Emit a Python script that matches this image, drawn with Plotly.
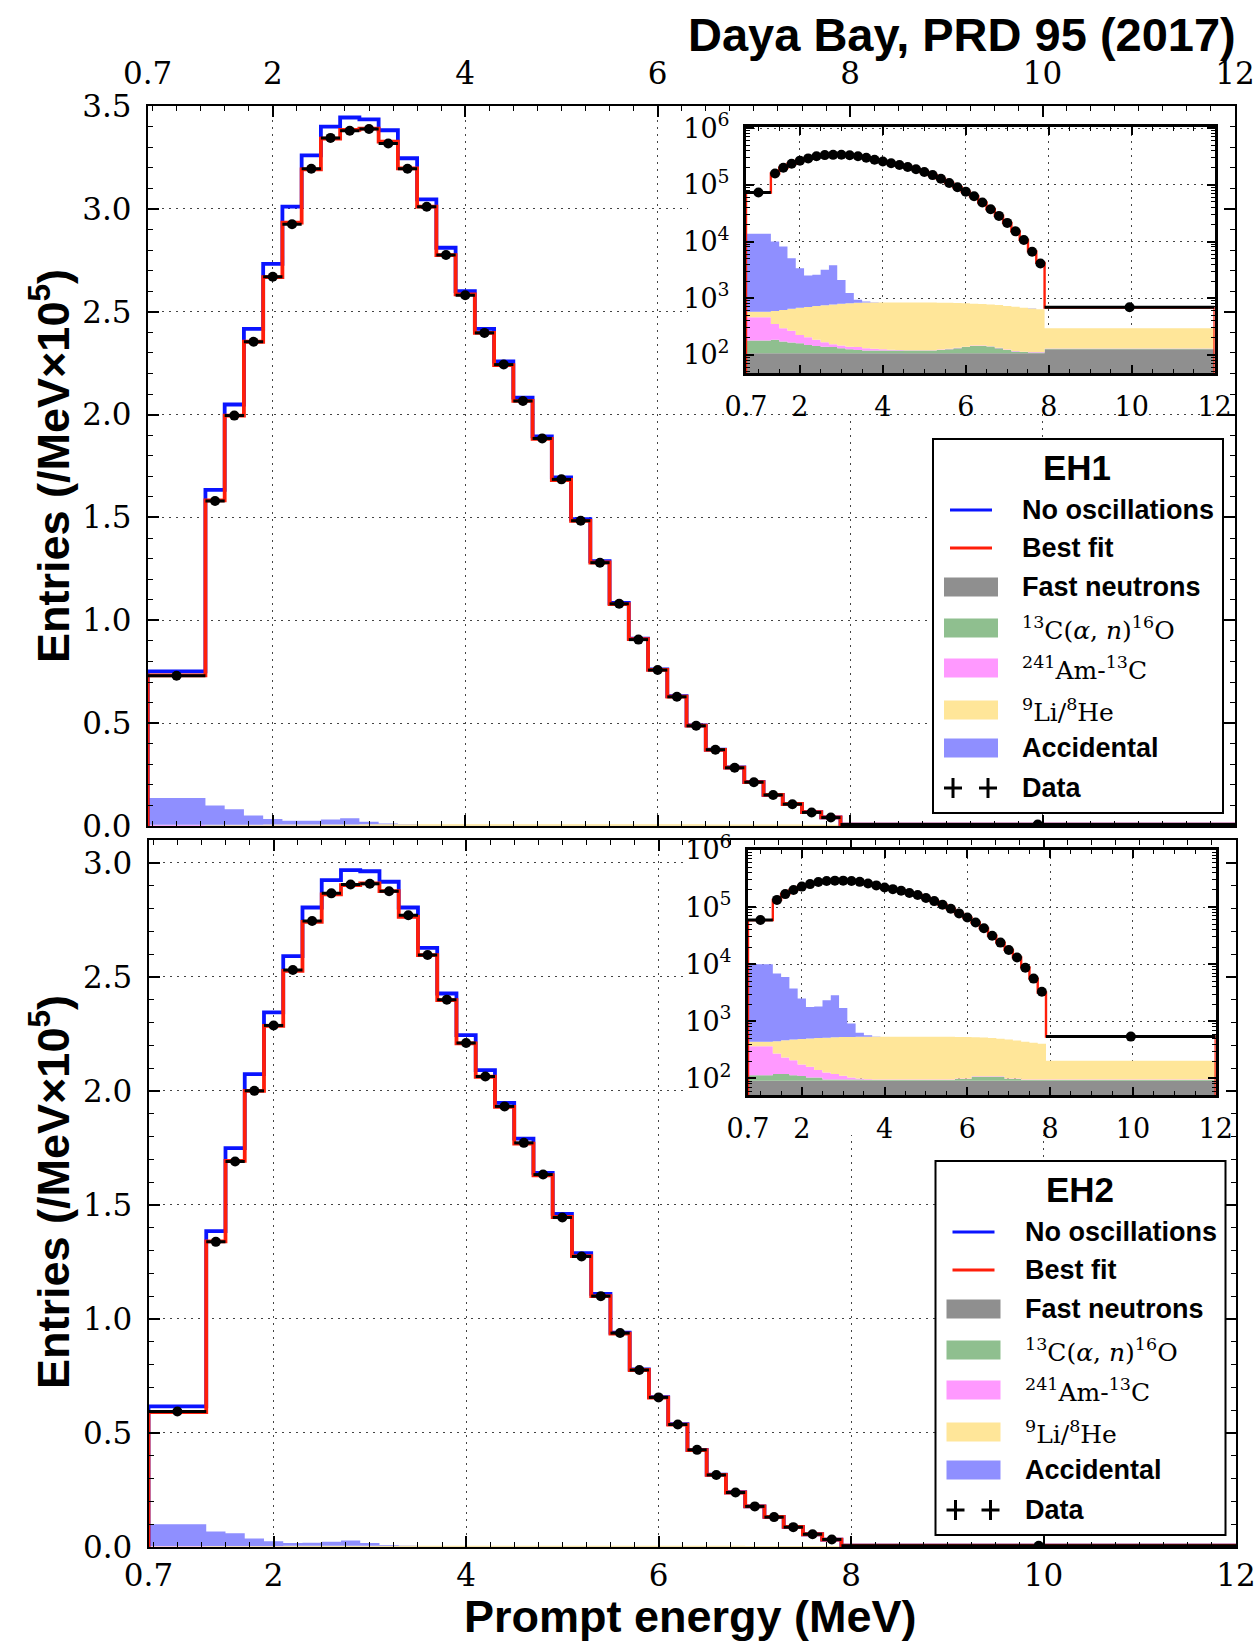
import numpy as np
import plotly.graph_objects as go

W, H = 1256, 1643

# ---------------- data ----------------
edges = [0.7, 1.3, 1.5, 1.7, 1.9, 2.1, 2.3, 2.5, 2.7, 2.9, 3.1, 3.3, 3.5, 3.7,
         3.9, 4.1, 4.3, 4.5, 4.7, 4.9, 5.1, 5.3, 5.5, 5.7, 5.9, 6.1, 6.3, 6.5,
         6.7, 6.9, 7.1, 7.3, 7.5, 7.7, 7.9, 12.0]

# EH1 (entries / MeV / 1e5)
eh1_noosc = [0.752, 1.634, 2.049, 2.417, 2.733, 3.011, 3.260, 3.400, 3.444, 3.435, 3.382, 3.246,
             3.046, 2.811, 2.600, 2.417, 2.258, 2.082, 1.894, 1.695, 1.492, 1.288, 1.084, 0.911,
             0.761, 0.631, 0.489, 0.371, 0.285, 0.214, 0.151, 0.107, 0.067, 0.042, 0.007]
eh1_fit = [0.732, 1.583, 1.995, 2.354, 2.668, 2.933, 3.192, 3.341, 3.384, 3.390, 3.327, 3.197,
           3.011, 2.775, 2.584, 2.397, 2.240, 2.067, 1.882, 1.682, 1.483, 1.281, 1.079, 0.908,
           0.759, 0.629, 0.488, 0.370, 0.284, 0.213, 0.151, 0.107, 0.067, 0.042, 0.0068]
eh1_data = [0.730, 1.580, 1.995, 2.354, 2.670, 2.925, 3.195, 3.345, 3.380, 3.388, 3.318, 3.195,
            3.010, 2.776, 2.580, 2.397, 2.243, 2.066, 1.884, 1.685, 1.484, 1.280, 1.080, 0.906,
            0.758, 0.628, 0.487, 0.371, 0.283, 0.213, 0.151, 0.106, 0.066, 0.041, 0.0069]
# EH1 backgrounds (entries / MeV)
eh1_fastn = [107, 107, 107, 107, 107, 107, 107, 107, 107, 107, 107, 107, 107, 107, 107, 107, 107, 107,
             107, 107, 107, 107, 107, 107, 107, 107, 107, 107, 107, 107, 107, 107, 107, 107, 125]
eh1_alphan = [72, 77, 65, 58, 53, 43, 37, 32, 30, 24, 19, 15, 12, 12, 12, 12, 12, 12, 12, 12, 12, 15,
              19, 24, 30, 37, 37, 33, 24, 15, 8, 5, 3, 3, 3]
eh1_amc = [284, 168, 123, 100, 65, 55, 40, 28, 17, 15, 13, 15, 12, 9, 6, 4, 3, 2, 2, 2, 2, 2, 2, 2,
           2, 2, 2, 2, 2, 2, 2, 2, 2, 2, 2]
eh1_lihe = [111, 245, 325, 383, 450, 495, 546, 583, 616, 649, 676, 693, 707, 710, 715, 717, 718, 719,
            719, 717, 715, 708, 700, 689, 673, 654, 644, 633, 622, 606, 588, 566, 548, 528, 165]
eh1_acc = [13076, 9403, 7540, 4432, 2715, 1810, 1850, 2410, 3040, 1305, 415, 105, 32, 12, 2, 1, 1, 1,
           1, 1, 1, 1, 1, 1, 1, 1, 1, 1, 1, 1, 1, 1, 1, 1, 1]

# EH2 (entries / MeV / 1e5)
eh2_noosc = [0.617, 1.385, 1.749, 2.073, 2.344, 2.591, 2.804, 2.924, 2.968, 2.963, 2.917, 2.804,
             2.627, 2.427, 2.244, 2.091, 1.947, 1.791, 1.640, 1.461, 1.288, 1.110, 0.940, 0.779,
             0.657, 0.539, 0.426, 0.317, 0.240, 0.178, 0.132, 0.088, 0.056, 0.032, 0.0055]
eh2_fit = [0.591, 1.340, 1.693, 2.000, 2.285, 2.526, 2.741, 2.862, 2.902, 2.910, 2.876, 2.763,
           2.595, 2.398, 2.208, 2.062, 1.930, 1.769, 1.630, 1.447, 1.275, 1.100, 0.936, 0.776,
           0.655, 0.537, 0.425, 0.316, 0.239, 0.178, 0.132, 0.088, 0.056, 0.032, 0.0054]
eh2_data = [0.594, 1.338, 1.690, 2.000, 2.287, 2.530, 2.745, 2.866, 2.905, 2.908, 2.875, 2.770,
            2.596, 2.400, 2.210, 2.063, 1.932, 1.772, 1.633, 1.445, 1.274, 1.100, 0.938, 0.776,
            0.656, 0.537, 0.426, 0.316, 0.239, 0.178, 0.131, 0.087, 0.056, 0.033, 0.0054]
# EH2 backgrounds (entries / MeV)
eh2_fastn = [91, 91, 91, 91, 91, 91, 91, 91, 91, 91, 91, 91, 91, 91, 91, 91, 91, 91, 91, 91, 91, 91,
             91, 91, 91, 91, 91, 91, 91, 91, 91, 91, 91, 91, 91]
eh2_alphan = [23, 28, 28, 23, 19, 13, 13, 5, 5, 5, 5, 5, 3, 3, 3, 3, 3, 3, 3, 3, 3, 3, 3, 7, 7, 16,
              16, 16, 16, 7, 7, 3, 3, 3, 3]
eh2_amc = [253, 154, 114, 95, 66, 56, 36, 31, 23, 16, 8, 4, 3, 2, 2, 2, 2, 2, 2, 2, 2, 2, 2, 2, 2,
           2, 2, 2, 2, 2, 2, 2, 2, 2, 2]
eh2_lihe = [70, 173, 235, 271, 314, 340, 370, 391, 406, 418, 429, 435, 439, 441, 441, 441, 441, 441,
            441, 441, 441, 440, 439, 433, 430, 417, 411, 401, 386, 380, 360, 344, 324, 309, 108]
eh2_acc = [9563, 6404, 5522, 3260, 2010, 1290, 1310, 1822, 2335, 1190, 382, 95, 37, 8, 1, 1, 1, 1,
           1, 1, 1, 1, 1, 1, 1, 1, 1, 1, 1, 1, 1, 1, 1, 1, 1]

x_tickvals = [0.7, 2, 4, 6, 8, 10, 12]
x_ticktext = ['0.7', '2', '4', '6', '8', '10', '12']
y1_tickvals = [0.0, 0.5, 1.0, 1.5, 2.0, 2.5, 3.0, 3.5]
y2_tickvals = [0.0, 0.5, 1.0, 1.5, 2.0, 2.5, 3.0]
log_tickvals = [1e2, 1e3, 1e4, 1e5, 1e6]
log_ticktext = ['10<sup>2</sup>', '10<sup>3</sup>', '10<sup>4</sup>', '10<sup>5</sup>', '10<sup>6</sup>']
legend_labels = ['No oscillations', 'Best fit', 'Fast neutrons',
                 '<sup>13</sup>C(<i>α</i>, <i>n</i>)<sup>16</sup>O',
                 '<sup>241</sup>Am-<sup>13</sup>C', '<sup>9</sup>Li/<sup>8</sup>He',
                 'Accidental', 'Data']
halls = ['EH1', 'EH2']

# ---------------- style ----------------
SANS = 'Liberation Sans, Arial, sans-serif'
SERIF = 'DejaVu Serif, serif'
BLUE = '#0a14ff'
RED = '#ff1e0a'
bkg_colors = ['#8f8f8f', '#8fbf8f', '#ff99ff', '#ffe699', '#8f8fff']
GRIDC = '#444444'
GRIDDASH = '2px,5px'


def pxx(x):
    return x / W


def pxy(y):
    return 1 - y / H


fig = go.Figure()
centers = [(a + b) / 2 for a, b in zip(edges[:-1], edges[1:])]
halfw = [(b - a) / 2 for a, b in zip(edges[:-1], edges[1:])]


def add_stack(comps, scale, base, xr, yr):
    xs = list(edges)
    fig.add_trace(go.Scatter(x=xs, y=[base] * len(xs), mode='lines',
                             line=dict(width=0, shape='hv'), xaxis=xr, yaxis=yr,
                             showlegend=False, hoverinfo='skip'))
    cum = np.zeros(len(comps[0]))
    for comp, col in zip(comps, bkg_colors):
        cum = cum + np.array(comp, dtype=float)
        yv = list(cum / scale) + [cum[-1] / scale]
        fig.add_trace(go.Scatter(x=xs, y=yv, mode='lines', line=dict(width=0, shape='hv'),
                                 fill='tonexty', fillcolor=col, xaxis=xr, yaxis=yr,
                                 showlegend=False, hoverinfo='skip'))


def add_step(vals, scale, base, color, width, xr, yr):
    xs = [edges[0]] + list(edges) + [edges[-1]]
    ys = [base] + [v * scale for v in vals] + [vals[-1] * scale, base]
    fig.add_trace(go.Scatter(x=xs, y=ys, mode='lines', line=dict(color=color, width=width, shape='hv'),
                             xaxis=xr, yaxis=yr, showlegend=False, hoverinfo='skip'))


def add_data(vals, scale, msize, xr, yr):
    fig.add_trace(go.Scatter(x=centers, y=[v * scale for v in vals], mode='markers',
                             marker=dict(color='black', size=msize),
                             error_x=dict(type='data', array=halfw, thickness=3, width=0, color='black'),
                             xaxis=xr, yaxis=yr, showlegend=False, hoverinfo='skip'))


panels = [
    dict(main=('x', 'y'), cover=('x2', 'y2'), inset=('x3', 'y3'),
         noosc=eh1_noosc, fit=eh1_fit, data=eh1_data,
         comps=[eh1_fastn, eh1_alphan, eh1_amc, eh1_lihe, eh1_acc]),
    dict(main=('x4', 'y4'), cover=('x5', 'y5'), inset=('x6', 'y6'),
         noosc=eh2_noosc, fit=eh2_fit, data=eh2_data,
         comps=[eh2_fastn, eh2_alphan, eh2_amc, eh2_lihe, eh2_acc]),
]

for p in panels:
    mx, my = p['main']
    add_stack(p['comps'], 1e5, 0.0, mx, my)
    add_step(p['noosc'], 1.0, 0.0, BLUE, 3.8, mx, my)
    add_step(p['fit'], 1.0, 0.0, RED, 3.8, mx, my)
    add_data(p['data'], 1.0, 10, mx, my)
    cx, cy = p['cover']
    fig.add_trace(go.Scatter(x=[None], y=[None], mode='markers', xaxis=cx, yaxis=cy,
                             showlegend=False, hoverinfo='skip'))
    ix, iy = p['inset']
    add_stack(p['comps'], 1.0, 1.0, ix, iy)
    add_step(p['fit'], 1e5, 1.0, RED, 2.4, ix, iy)
    add_data(p['data'], 1e5, 10, ix, iy)


def main_x(dom, anchor, side, labels, standoff):
    return dict(domain=dom, anchor=anchor, side=side, range=[0.7, 12], automargin=False,
                tickmode='array', tickvals=x_tickvals, ticktext=x_ticktext,
                showticklabels=labels, ticks='inside', ticklen=11, tickwidth=1.5,
                tickcolor='black', showline=True, linecolor='black', linewidth=2,
                mirror='ticks', showgrid=True, gridcolor=GRIDC, gridwidth=1.3,
                griddash=GRIDDASH, zeroline=False, ticklabeloverflow='allow',
                minor=dict(ticks='inside', ticklen=5, tickwidth=1.2, tickcolor='black',
                           tick0=0, dtick=0.25, showgrid=False),
                tickfont=dict(family=SERIF, size=31, color='black'),
                ticklabelstandoff=standoff)


def main_y(dom, anchor, rng, tv):
    return dict(domain=dom, anchor=anchor, range=rng, tickmode='array', tickvals=tv,
                automargin=False, ticklabeloverflow='allow',
                ticktext=['%.1f' % v for v in tv], ticks='inside', ticklen=11, tickwidth=1.5,
                tickcolor='black', showline=True, linecolor='black', linewidth=2,
                mirror='ticks', showgrid=True, gridcolor=GRIDC, gridwidth=1.3,
                griddash=GRIDDASH, zeroline=False,
                minor=dict(ticks='inside', ticklen=5, tickwidth=1.2, tickcolor='black',
                           tick0=0, dtick=0.1, showgrid=False),
                tickfont=dict(family=SERIF, size=31, color='black'),
                ticklabelstandoff=8)


def inset_x(dom, anchor):
    return dict(domain=dom, anchor=anchor, range=[0.7, 12], tickmode='array', automargin=False,
                tickvals=x_tickvals, ticktext=x_ticktext, ticks='inside', ticklen=8,
                tickwidth=1.5, tickcolor='black', showline=True, linecolor='black',
                linewidth=3, mirror='ticks', showgrid=True, gridcolor=GRIDC, gridwidth=1.3,
                griddash=GRIDDASH, zeroline=False, ticklabeloverflow='allow',
                minor=dict(ticks='inside', ticklen=4, tickwidth=1.2, tickcolor='black',
                           tick0=0, dtick=0.5, showgrid=False),
                tickfont=dict(family=SERIF, size=27, color='black'), ticklabelstandoff=8)


def inset_y(dom, anchor, rng):
    return dict(domain=dom, anchor=anchor, type='log', range=rng, tickmode='array',
                automargin=False, ticklabeloverflow='allow',
                tickvals=log_tickvals, ticktext=log_ticktext, ticks='inside', ticklen=8,
                tickwidth=1.5, tickcolor='black', showline=True, linecolor='black',
                linewidth=3, mirror='ticks', showgrid=True, gridcolor=GRIDC, gridwidth=1.3,
                griddash=GRIDDASH, zeroline=False,
                minor=dict(ticks='inside', ticklen=4, tickwidth=1.2, tickcolor='black',
                           dtick='D1', showgrid=False),
                tickfont=dict(family=SERIF, size=27, color='black'), ticklabelstandoff=8)


def cover_ax(dom, anchor):
    return dict(domain=dom, anchor=anchor, range=[0, 1], visible=False, fixedrange=True,
                automargin=False)


def xdom(a, b):
    return [pxx(a), pxx(b)]


def ydom(top, bottom):
    return [pxy(bottom), pxy(top)]


layout = dict(
    width=W, height=H, margin=dict(l=0, r=0, t=0, b=0, autoexpand=False),
    paper_bgcolor='white', plot_bgcolor='white', showlegend=False, hovermode=False,
    xaxis=main_x(xdom(147.7, 1235), 'y', 'top', True, 8),
    yaxis=main_y(ydom(106, 826), 'x', [0, 3.5], y1_tickvals),
    xaxis2=cover_ax(xdom(688, 1224), 'y2'),
    yaxis2=cover_ax(ydom(118, 412), 'x2'),
    xaxis3=inset_x(xdom(746, 1214.6), 'y3'),
    yaxis3=inset_y(ydom(127, 373), 'x3', [1.68, 6.02]),
    xaxis4=main_x(xdom(148.5, 1236), 'y4', 'bottom', True, 0),
    yaxis4=main_y(ydom(840, 1547), 'x4', [0, 3.1], y2_tickvals),
    xaxis5=cover_ax(xdom(688, 1226), 'y5'),
    yaxis5=cover_ax(ydom(852, 1135), 'x5'),
    xaxis6=inset_x(xdom(748, 1215.7), 'y6'),
    yaxis6=inset_y(ydom(850, 1095), 'x6', [1.71, 6.0]),
)
fig.update_layout(**layout)

shapes = []
annots = []

# ---- legends (drawn manually) ----
leg_kinds = ['line', 'line', 'rect', 'rect', 'rect', 'rect', 'rect', 'plus']
leg_colors = [BLUE, RED] + bkg_colors + ['black']
leg_fonts = [SANS, SANS, SANS, SERIF, SERIF, SERIF, SANS, SANS]
row_y = [510, 548, 587, 628, 668, 710, 748, 788]

for hall, (ox, oy) in zip(halls, [(0, 0), (2.5, 722)]):
    shapes.append(dict(type='rect', xref='paper', yref='paper',
                       x0=pxx(933 + ox), x1=pxx(1223 + ox), y0=pxy(439 + oy), y1=pxy(813 + oy),
                       line=dict(color='black', width=2), fillcolor='white', layer='above'))
    annots.append(dict(text='<b>%s</b>' % hall, x=pxx(1077 + ox), y=pxy(467 + oy),
                       xref='paper', yref='paper', showarrow=False, xanchor='center',
                       yanchor='middle', font=dict(family=SANS, size=35, color='black')))
    for lab, kind, col, fnt, ry in zip(legend_labels, leg_kinds, leg_colors, leg_fonts, row_y):
        yy = ry + oy
        if kind == 'line':
            shapes.append(dict(type='line', xref='paper', yref='paper', x0=pxx(950 + ox),
                               x1=pxx(992 + ox), y0=pxy(yy), y1=pxy(yy),
                               line=dict(color=col, width=3), layer='above'))
        elif kind == 'rect':
            shapes.append(dict(type='rect', xref='paper', yref='paper', x0=pxx(944 + ox),
                               x1=pxx(998 + ox), y0=pxy(yy - 9.5), y1=pxy(yy + 9.5),
                               line=dict(width=0), fillcolor=col, layer='above'))
        else:
            for cxp in (953, 988):
                shapes.append(dict(type='line', xref='paper', yref='paper',
                                   x0=pxx(cxp - 9 + ox), x1=pxx(cxp + 9 + ox),
                                   y0=pxy(yy), y1=pxy(yy), line=dict(color='black', width=3),
                                   layer='above'))
                shapes.append(dict(type='line', xref='paper', yref='paper',
                                   x0=pxx(cxp + ox), x1=pxx(cxp + ox),
                                   y0=pxy(yy - 10), y1=pxy(yy + 10),
                                   line=dict(color='black', width=3), layer='above'))
        txt = '<b>%s</b>' % lab if fnt == SANS else lab
        annots.append(dict(text=txt, x=pxx(1020 + ox), y=pxy(yy), xref='paper', yref='paper',
                           showarrow=False, xanchor='left', yanchor='middle',
                           font=dict(family=fnt, size=27 if fnt == SANS else 25, color='black')))

# ---- titles ----
annots.append(dict(text='<b>Daya Bay, PRD 95 (2017)</b>', x=pxx(1238), y=pxy(34),
                   xref='paper', yref='paper', showarrow=False, xanchor='right',
                   yanchor='middle', font=dict(family=SANS, size=47, color='black')))
for yc in (466, 1192):
    annots.append(dict(text='<b>Entries (/MeV×10<sup>5</sup>)</b>', x=pxx(50), y=pxy(yc),
                       xref='paper', yref='paper', showarrow=False, textangle=-90,
                       xanchor='center', yanchor='middle',
                       font=dict(family=SANS, size=45, color='black')))
annots.append(dict(text='<b>Prompt energy (MeV)</b>', x=pxx(690), y=pxy(1616),
                   xref='paper', yref='paper', showarrow=False, xanchor='center',
                   yanchor='middle', font=dict(family=SANS, size=45, color='black')))

fig.update_layout(shapes=shapes, annotations=annots)
fig.write_html('out.html', config={'displayModeBar': False},
               post_script="document.body.style.margin='0px';document.body.style.overflow='hidden';")
